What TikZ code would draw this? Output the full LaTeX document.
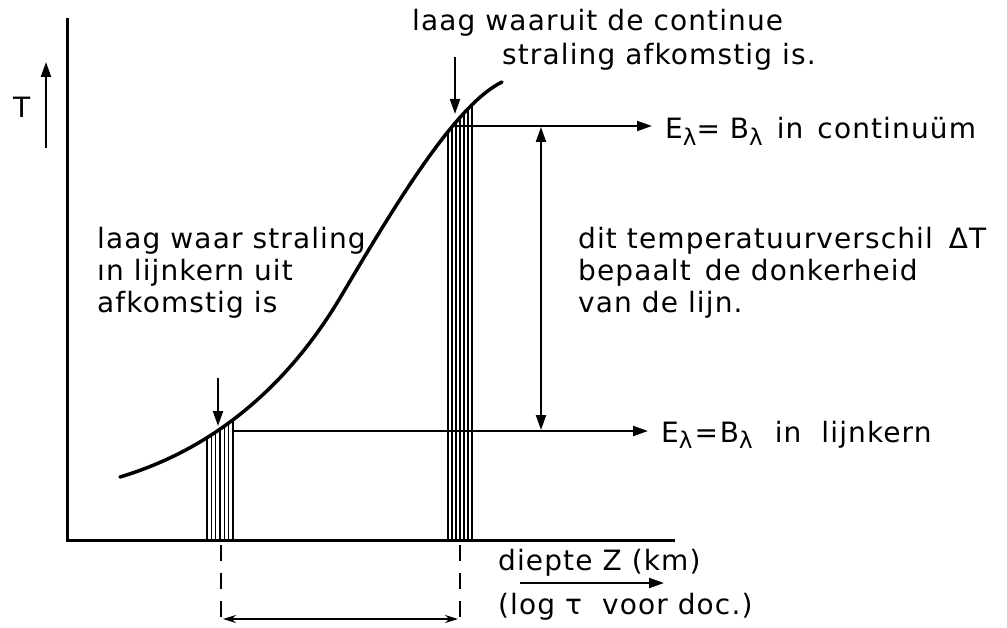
\documentclass[tikz,border=0pt]{standalone}
\usepackage{fontspec}
\setmainfont{DejaVu Sans}[LetterSpace=4]
\usetikzlibrary{arrows.meta}
\newcommand\lsub[1]{\raisebox{-0.45ex}{\fontsize{23}{23}\selectfont #1}}
\newcommand\curvepath{(120,477) .. controls (210,450) and (285,390) .. (340,298) .. controls (395,205) and (455,105) .. (502,82)}
\begin{document}
\begin{tikzpicture}[x=1pt,y=-1pt,
  lbl/.style={anchor=base west, inner sep=0pt, font=\fontsize{28}{32.5}\selectfont},
  axis/.style={line width=3pt},
  arr/.style={line width=2pt, -{Triangle[length=15pt,width=10pt]}},
  darr/.style={line width=2pt, {Triangle[length=15pt,width=10pt]}-{Triangle[length=15pt,width=10pt]}},
  hatch/.style={line width=1.3pt},
  dashline/.style={line width=2pt, dash pattern=on 16pt off 12pt}]
\useasboundingbox (0,0) rectangle (1007,628);
\fill[white] (0,0) rectangle (1007,628);
% axes
\coordinate (ytop) at (67,18);
\coordinate (orig) at (67,540);
\coordinate (xend) at (675,540);
\draw[axis] (ytop) -- (orig) -- (xend);
% T arrow
\coordinate (Tb) at (46,148);
\coordinate (Tt) at (46,62);
\draw[arr] (Tb) -- (Tt);
\node[lbl] (T) at (13,118) {T};
% hatching clipped below curve
\begin{scope}
\clip \curvepath -- (502,540) -- (120,540) -- cycle;
\foreach \x in {207,211.3,215.6,220,224.3,228.6,233}{\draw[hatch] (\x,540) -- (\x,380);}
\foreach \x in {448,452,456,460,464,468,472}{\draw[hatch] (\x,540) -- (\x,80);}
\end{scope}
% curve
\draw[line width=3.5pt, line cap=round] \curvepath;
% horizontal arrows
\coordinate (hu0) at (452,126);
\coordinate (hu1) at (652,126);
\coordinate (hl0) at (233,431);
\coordinate (hl1) at (648,431);
\draw[arr] (hu0) -- (hu1);
\draw[arr] (hl0) -- (hl1);
% delta T double arrow
\coordinate (dta) at (541,127);
\coordinate (dtb) at (541,430);
\draw[darr] (dta) -- (dtb);
% down arrows
\coordinate (da0) at (218,378);
\coordinate (da1) at (218,426);
\draw[arr] (da0) -- (da1);
\coordinate (ua0) at (455,57);
\coordinate (ua1) at (455,114);
\draw[arr] (ua0) -- (ua1);
% dashed lines and bottom arrow
\coordinate (dl0) at (221,545);
\coordinate (dl1) at (221,622);
\coordinate (dr0) at (460,545);
\coordinate (dr1) at (460,622);
\draw[dashline] (dl0) -- (dl1);
\draw[dashline] (dr0) -- (dr1);
\coordinate (ba0) at (223,619);
\coordinate (ba1) at (458,619);
\draw[line width=1.8pt, {Stealth[length=13pt,width=8pt]}-{Stealth[length=13pt,width=8pt]}] (ba0) -- (ba1);
% depth arrow
\coordinate (za0) at (520,583);
\coordinate (za1) at (664,583);
\draw[arr] (za0) -- (za1);
% texts
\node[lbl] (top1) at (412,31) {laag waaruit de continue};
\node[lbl] (top2) at (502,65) {straling afkomstig is.};
\node[lbl] (ec) at (665,139) {E\lsub{λ}= B\lsub{λ}\hspace{4pt} in\hspace{4pt} continuüm};
\node[lbl] (el) at (661,442) {E\lsub{λ}\hspace{2pt}=\hspace{2pt}B\lsub{λ}\hspace{12pt} in\hspace{10pt} lijnkern};
\node[lbl] (dt1) at (578,249) {dit temperatuurverschil\hspace{6pt} ΔT};
\node[lbl] (dt2) at (578,281) {bepaalt\hspace{4pt} de donkerheid};
\node[lbl] (dt3) at (578,313) {van de lijn.};
\node[lbl] (ll1) at (97,249) {laag waar straling};
\node[lbl] (ll2) at (97,281) {ın lijnkern uit};
\node[lbl] (ll3) at (97,313) {afkomstig is};
\node[lbl] (z1) at (498,570) {diepte Z (km)};
\node[lbl] (z2) at (498,614) {(log τ \ voor doc.)};
\end{tikzpicture}
\end{document}
